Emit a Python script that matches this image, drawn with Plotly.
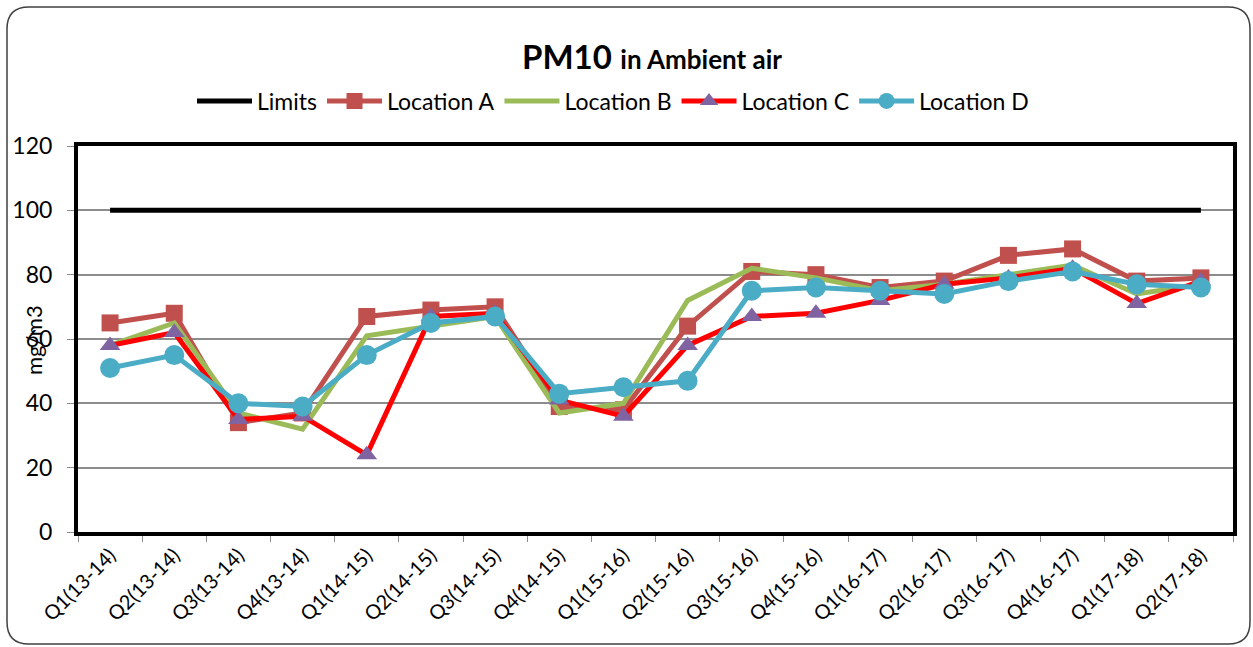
import plotly.graph_objects as go

quarters = ["Q1(13-14)", "Q2(13-14)", "Q3(13-14)", "Q4(13-14)",
            "Q1(14-15)", "Q2(14-15)", "Q3(14-15)", "Q4(14-15)",
            "Q1(15-16)", "Q2(15-16)", "Q3(15-16)", "Q4(15-16)",
            "Q1(16-17)", "Q2(16-17)", "Q3(16-17)", "Q4(16-17)",
            "Q1(17-18)", "Q2(17-18)"]

limits = [100] * 18
location_a = [65, 68, 34, 37, 67, 69, 70, 39, 38, 64, 81, 80, 76, 78, 86, 88, 78, 79]
location_b = [58, 65, 37, 32, 61, 64, 67, 37, 40, 72, 82, 79, 75, 77, 80, 83, 74, 77]
location_c = [58, 62, 35, 36, 24, 67, 68, 41, 36, 58, 67, 68, 72, 77, 79, 82, 71, 78]
location_d = [51, 55, 40, 39, 55, 65, 67, 43, 45, 47, 75, 76, 75, 74, 78, 81, 77, 76]

FONT = "Lato"

fig = go.Figure()
fig.add_trace(go.Scatter(x=quarters, y=limits, name="Limits", mode="lines",
                         line=dict(color="black", width=5)))
fig.add_trace(go.Scatter(x=quarters, y=location_a, name="Location A", mode="lines+markers",
                         line=dict(color="#C0504D", width=5),
                         marker=dict(symbol="square", size=17, color="#C0504D")))
fig.add_trace(go.Scatter(x=quarters, y=location_b, name="Location B", mode="lines",
                         line=dict(color="#9BBB59", width=5)))
fig.add_trace(go.Scatter(x=quarters, y=location_c, name="Location C", mode="lines+markers",
                         line=dict(color="#FF0000", width=5),
                         marker=dict(symbol="triangle-up", size=18, color="#8064A2")))
fig.add_trace(go.Scatter(x=quarters, y=location_d, name="Location D", mode="lines+markers",
                         line=dict(color="#4BACC6", width=5),
                         marker=dict(symbol="circle", size=20, color="#4BACC6")))

# plot area geometry in pixels
L, R, T, B = 78, 1233, 146, 532
W, H = R - L, B - T


def px(x):
    return (x - L) / W


def py(y):
    return (B - y) / H


# rounded outer frame of the chart
x0, x1, y0, y1, r = 7, 1250, 7, 644, 22
path = (f"M {px(x0 + r)} {py(y0)} L {px(x1 - r)} {py(y0)} "
        f"Q {px(x1)} {py(y0)} {px(x1)} {py(y0 + r)} "
        f"L {px(x1)} {py(y1 - r)} Q {px(x1)} {py(y1)} {px(x1 - r)} {py(y1)} "
        f"L {px(x0 + r)} {py(y1)} Q {px(x0)} {py(y1)} {px(x0)} {py(y1 - r)} "
        f"L {px(x0)} {py(y0 + r)} Q {px(x0)} {py(y0)} {px(x0 + r)} {py(y0)} Z")

fig.update_layout(
    width=1253, height=647,
    margin=dict(l=L, r=1253 - R, t=T, b=647 - B, autoexpand=False),
    paper_bgcolor="white", plot_bgcolor="white",
    font=dict(family=FONT, color="black"),
    title=dict(text="<b>PM10</b> <b><span style='font-size:26px'>in Ambient air</span></b>",
               x=652 / 1253, xanchor="center", y=1 - 57 / 647, yanchor="middle",
               font=dict(size=33, family=FONT)),
    legend=dict(orientation="h", x=px(613), xanchor="center", y=py(101), yanchor="middle",
                font=dict(size=23, family=FONT), itemwidth=55, bgcolor="rgba(0,0,0,0)"),
    showlegend=True,
    shapes=[dict(type="path", path=path, xref="paper", yref="paper",
                 line=dict(color="#404040", width=1.5), layer="below")],
)

fig.update_xaxes(type="category", range=[-0.5, 17.5], tickangle=-45,
                 tickfont=dict(size=20, family=FONT),
                 tickson="boundaries", ticks="outside", ticklen=6, tickcolor="#8c8c8c",
                 showgrid=False, showline=True, linecolor="black", linewidth=4, mirror=True)
fig.update_yaxes(range=[0, 120], dtick=20, tickfont=dict(size=23, family=FONT),
                 ticks="outside", ticklen=7, tickcolor="#8c8c8c", ticklabelstandoff=10,
                 showgrid=True, gridcolor="#8c8c8c", gridwidth=1.5, zeroline=False,
                 showline=True, linecolor="black", linewidth=4, mirror=True)

# unit label sits beside the y tick labels
fig.add_annotation(text="mg/m3", x=px(33), y=py(340), xref="paper", yref="paper",
                   xanchor="center", yanchor="middle",
                   showarrow=False, textangle=-90, font=dict(size=22, family=FONT))

fig.write_html("out.html")
